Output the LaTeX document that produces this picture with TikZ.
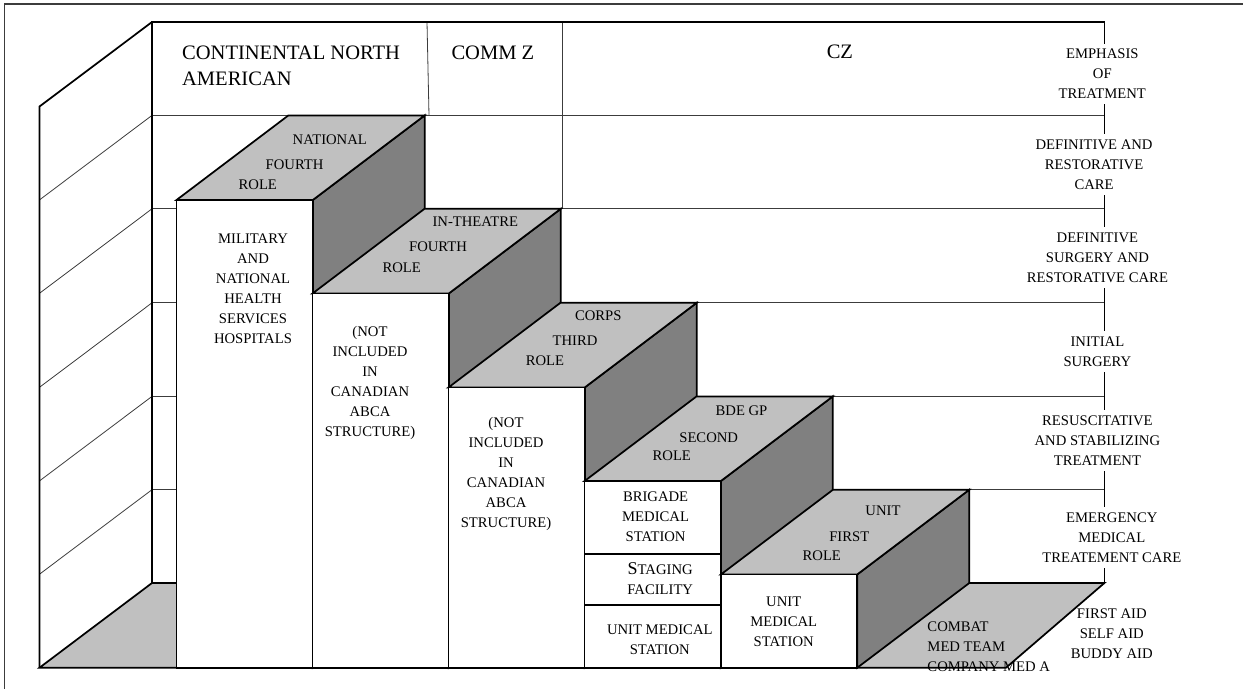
\documentclass[tikz,border=0pt]{standalone}
\usepackage{fontspec}
\setmainfont{Liberation Serif}
\usetikzlibrary{positioning}
\definecolor{topgray} {HTML}{C0C0C0}
\definecolor{sidegray}{HTML}{808080}
\definecolor{rule}    {HTML}{3C3C3C}

\begin{document}
\begin{tikzpicture}[x=0.75pt, y=-0.75pt, font=\fontsize{11}{15}\selectfont,
    edge/.style={line width=1.3pt, line join=miter, black},
    gridline/.style={line width=0.6pt, rule},
    topface/.style={edge, fill=topgray},
    sideface/.style={edge, fill=sidegray},
    frontface/.style={edge, fill=white},
    txt/.style={inner sep=0pt, align=center},
    bigtxt/.style={inner sep=0pt, font=\fontsize{15.4}{19.5}\selectfont},
    axislabel/.style={txt, fill=white, inner xsep=2pt, inner ysep=4pt}]
  \useasboundingbox (0,0) rectangle (1243,689);
  % page frame, cut at right and bottom
  \draw[line width=1pt, rule] (4.7,689) -- (4.7,4) -- (1243,4);

  % back wall and side wall
  \foreach \y in {115.4,208.8,302.8,396.4,489.7}{
    \draw[gridline] (152,\y) -- (1104.4,\y);
    \draw[gridline] (152,\y) -- ++(-112.5,84.5);
  }
  \draw[gridline] (427,22) -- (429,115.4);
  \draw[gridline] (562.7,22) -- (562.7,208.8);
  \draw[edge] (152,583) -- (152,22) -- (1104.4,22) -- (1104.4,583);
  \draw[edge] (152,22) -- (39.5,106.5) -- (39.5,667.7);

  % floor
  \filldraw[topface] (39.5,667.7) -- (152,583) -- (1104.4,583) -- (1006,667.7) -- cycle;

  % steps, back to front
  \foreach \xl/\yb in {176.4/115.4, 312.5/208.8, 448.4/302.8, 584.5/396.4, 721/489.7}{
    \filldraw[sideface] (\xl+136.3,\yb+84.7) -- (\xl+248.3,\yb) -- (\xl+248.3,583) -- (\xl+136.3,667.7) -- cycle;
    \filldraw[topface] (\xl,\yb+84.7) -- (\xl+112,\yb) -- (\xl+248.3,\yb) -- (\xl+136.3,\yb+84.7) -- cycle;
    \filldraw[frontface] (\xl,\yb+84.7) rectangle (\xl+136.3,667.7);
  }
  \draw[edge] (584.5,554.3) -- (720.8,554.3);
  \draw[edge] (584.5,605) -- (720.8,605);

  % zone headings
  \node[bigtxt, anchor=west, align=left] (cna) at (181.9,65.7) {CONTINENTAL NORTH\\AMERICAN};
  \node[bigtxt] (commz) at (492.9,52.7) {COMM Z};
  \node[bigtxt] (cz) at (839.9,51.7) {CZ};

  % step tops
  \node[txt] (b1name) at (329.8,140) {NATIONAL};
  \node[txt] (b1ord)  at (294.6,164.7) {FOURTH};
  \node[txt] (b1role) at (257.8,185) {ROLE};
  \node[txt] (b2name) at (475.3,222) {IN-THEATRE};
  \node[txt] (b2ord)  at (438,247) {FOURTH};
  \node[txt] (b2role) at (401.7,267.3) {ROLE};
  \node[txt] (b3name) at (598.3,316) {CORPS};
  \node[txt] (b3ord)  at (575,341) {THIRD};
  \node[txt] (b3role) at (545,361) {ROLE};
  \node[txt] (b4name) at (741.5,411) {BDE GP};
  \node[txt] (b4ord)  at (708.7,437.3) {SECOND};
  \node[txt] (b4role) at (671.8,455.7) {ROLE};
  \node[txt] (b5name) at (883,510.5) {UNIT};
  \node[txt] (b5ord)  at (849.3,537) {FIRST};
  \node[txt] (b5role) at (821.8,556) {ROLE};

  % step fronts
  \node[txt] (b1front) at (253,288.3) {MILITARY\\AND\\NATIONAL\\HEALTH\\SERVICES\\HOSPITALS};
  \node[txt] (b2front) at (370,383.3) {(NOT\\INCLUDED\\IN\\CANADIAN\\ABCA\\STRUCTURE)};
  \node[txt] (b3front) at (506,474.2) {(NOT\\INCLUDED\\IN\\CANADIAN\\ABCA\\STRUCTURE)};
  \node[txt] (bms) at (655.6,517.2) {BRIGADE\\MEDICAL\\STATION};
  \node[txt] (staging) at (660.2,578.9) {{\fontsize{13.5}{15}\selectfont S}TAGING\\FACILITY};
  \node[txt] (ums4) at (659.8,639.3) {UNIT MEDICAL\\STATION};
  \node[txt] (ums5) at (783.7,622) {UNIT\\MEDICAL\\STATION};
  \node[txt, anchor=west, align=left] (combat) at (927.2,647.2) {COMBAT\\MED TEAM\\COMPANY MED A};

  % emphasis of treatment
  \node[axislabel] (emph) at (1102.3,73.7) {EMPHASIS\\OF\\TREATMENT};
  \node[axislabel] (defrest) at (1094.1,164.7) {DEFINITIVE AND\\RESTORATIVE\\CARE};
  \node[axislabel] (defsurg) at (1097.4,257.5) {DEFINITIVE\\SURGERY AND\\RESTORATIVE CARE};
  \node[axislabel] (initsurg) at (1097.4,351.4) {INITIAL\\SURGERY};
  \node[axislabel] (resus) at (1097.4,440.5) {RESUSCITATIVE\\AND STABILIZING\\TREATMENT};
  \node[axislabel] (emerg) at (1111.8,537.5) {EMERGENCY\\MEDICAL\\TREATEMENT CARE};
  \node[txt] (firstaid) at (1111.8,633.5) {FIRST AID\\SELF AID\\BUDDY AID};
\end{tikzpicture}
\end{document}
